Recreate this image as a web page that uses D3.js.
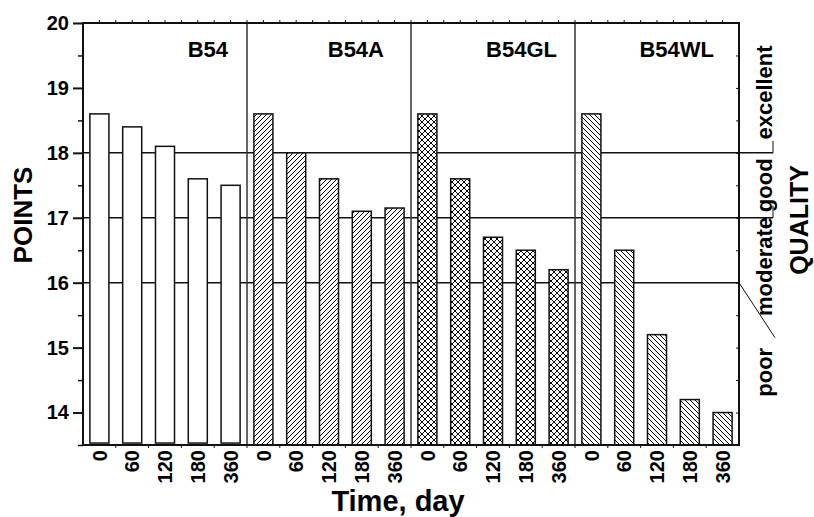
<!DOCTYPE html>
<html>
<head>
<meta charset="utf-8">
<script src="https://cdn.jsdelivr.net/npm/d3@7"></script>
<style>
  body { margin: 0; background: #fff; }
  svg { font-family: "Liberation Sans", Arial, sans-serif; font-weight: bold; }
  .axis path, .axis line { stroke: #111; }
  .axis text { font-size: 20px; font-weight: bold; fill: #000; }
</style>
</head>
<body>
<svg id="chart"></svg>
<script>
// storage-time series, points per sample
const groups = ["B54", "B54A", "B54GL", "B54WL"];
const days = ["0", "60", "120", "180", "360"];
const b54 = [18.6, 18.4, 18.1, 17.6, 17.5];
const b54a = [18.6, 18.0, 17.6, 17.1, 17.15];
const b54gl = [18.6, 17.6, 16.7, 16.5, 16.2];
const b54wl = [18.6, 16.5, 15.2, 14.2, 14.0];
const yTicks = [14, 15, 16, 17, 18, 19, 20];
const qualityBounds = [16, 17, 18];
const qualityLabels = ["poor", "moderate", "good", "excellent"];
const qualityLabelAt = [14.62, 16.25, 17.5, 18.93];

const seriesValues = [b54, b54a, b54gl, b54wl];
const fills = ["#fff", "url(#hatchFwd)", "url(#hatchCross)", "url(#hatchBack)"];
const titleInset = [19, 27, 18, 25];

const data = [];
groups.forEach((g, gi) => {
  days.forEach((d, di) => {
    data.push({ key: g + "|" + d, group: g, gi: gi, day: d, value: seriesValues[gi][di] });
  });
});

const config = {
  containerWidth: 814,
  containerHeight: 517,
  margin: { top: 23, right: 75, bottom: 72, left: 83 },
};
const width = config.containerWidth - config.margin.left - config.margin.right;
const height = config.containerHeight - config.margin.top - config.margin.bottom;

const svg = d3.select("#chart")
  .attr("width", config.containerWidth)
  .attr("height", config.containerHeight);

// hatch patterns
const defs = svg.append("defs");
function pattern(id, size, d) {
  defs.append("pattern")
    .attr("id", id)
    .attr("patternUnits", "userSpaceOnUse")
    .attr("width", size)
    .attr("height", size)
    .call(p => p.append("rect").attr("width", size).attr("height", size).attr("fill", "#fff"))
    .append("path")
    .attr("d", d)
    .attr("stroke", "#000")
    .attr("stroke-width", 1)
    .attr("fill", "none");
}
pattern("hatchFwd", 5, "M0,5 L5,0 M-1,1 L1,-1 M4,6 L6,4");
pattern("hatchBack", 5, "M0,0 L5,5 M-1,4 L1,6 M4,-1 L6,1");
pattern("hatchCross", 6, "M0,6 L6,0 M-1,1 L1,-1 M5,7 L7,5 M0,0 L6,6 M-1,5 L1,7 M5,-1 L7,1");

const chart = svg.append("g")
  .attr("transform", `translate(${config.margin.left},${config.margin.top})`);

const xScale = d3.scaleBand()
  .domain(data.map(d => d.key))
  .range([0, width])
  .paddingInner(0.42)
  .paddingOuter(0.21);
const step = xScale.step();

const yScale = d3.scaleLinear().domain([13.5, 20]).range([height, 0]);

// quality threshold lines
chart.selectAll(".qline")
  .data(qualityBounds)
  .enter()
  .append("line")
  .attr("class", "qline")
  .attr("x1", 0)
  .attr("x2", (d, i) => (i === 0 ? width : width + 34))
  .attr("y1", d => yScale(d))
  .attr("y2", d => yScale(d))
  .attr("stroke", "#111")
  .attr("stroke-width", 1.5);

// small end marks on the upper two lines
chart.selectAll(".qmark")
  .data(qualityBounds.slice(1))
  .enter()
  .append("line")
  .attr("x1", width + 34)
  .attr("x2", width + 34)
  .attr("y1", d => yScale(d))
  .attr("y2", d => yScale(d) - 12)
  .attr("stroke", "#111")
  .attr("stroke-width", 1);

chart.append("line")
  .attr("x1", width)
  .attr("y1", yScale(qualityBounds[0]))
  .attr("x2", width + 36)
  .attr("y2", yScale(qualityBounds[0]) + 55)
  .attr("stroke", "#111")
  .attr("stroke-width", 1);

// bars
chart.selectAll(".bar")
  .data(data)
  .enter()
  .append("rect")
  .attr("class", "bar")
  .attr("x", d => xScale(d.key))
  .attr("width", xScale.bandwidth())
  .attr("y", d => yScale(d.value))
  .attr("height", d => yScale(d.gi === 0 ? 13.53 : 13.5) - yScale(d.value))
  .attr("fill", d => fills[d.gi])
  .attr("stroke", "#111")
  .attr("stroke-width", 1.5);

// group separators
chart.selectAll(".sep")
  .data(groups.slice(1))
  .enter()
  .append("line")
  .attr("class", "sep")
  .attr("x1", (d, i) => (i + 1) * 5 * step)
  .attr("x2", (d, i) => (i + 1) * 5 * step)
  .attr("y1", 0)
  .attr("y2", height)
  .attr("stroke", "#333")
  .attr("stroke-width", 1.5);

// group titles
chart.selectAll(".gtitle")
  .data(groups)
  .enter()
  .append("text")
  .attr("class", "gtitle")
  .attr("x", (d, i) => (i + 1) * 5 * step - titleInset[i])
  .attr("y", 34)
  .attr("text-anchor", "end")
  .style("font-size", "22px")
  .text(d => d);

// frame
chart.append("rect")
  .attr("width", width)
  .attr("height", height)
  .attr("fill", "none")
  .attr("stroke", "#111")
  .attr("stroke-width", 2);

// top minor ticks
const halfSteps = d3.range(1, data.length * 2).map(i => i * step / 2);
chart.selectAll(".ttick")
  .data(halfSteps)
  .enter()
  .append("line")
  .attr("x1", d => d).attr("x2", d => d)
  .attr("y1", 0).attr("y2", -3)
  .attr("stroke", "#111");

// bottom ticks at slot boundaries
chart.selectAll(".btick")
  .data(d3.range(1, data.length))
  .enter()
  .append("line")
  .attr("x1", d => d * step).attr("x2", d => d * step)
  .attr("y1", height).attr("y2", height + 3)
  .attr("stroke", "#111");

// axes
const halfTicks = d3.range(13.5, 20.01, 0.5).filter(v => v % 1 !== 0);

const xAxis = d3.axisBottom(xScale).tickSize(0).tickFormat(d => d.split("|")[1]);
const xAxisG = chart.append("g")
  .attr("class", "axis x-axis")
  .attr("transform", `translate(0,${height})`)
  .call(xAxis);
xAxisG.select(".domain").remove();
xAxisG.selectAll("text")
  .attr("x", -5)
  .attr("y", 0)
  .attr("dy", "0.36em")
  .attr("transform", "rotate(-90)")
  .style("text-anchor", "end");

const yAxis = d3.axisLeft(yScale).tickValues(yTicks).tickSize(10).tickPadding(4)
  .tickFormat(d3.format("d"));
const yAxisG = chart.append("g").attr("class", "axis y-axis").call(yAxis);
yAxisG.select(".domain").remove();
yAxisG.selectAll("line").attr("stroke-width", 2);

const yMinor = chart.append("g")
  .attr("class", "axis")
  .call(d3.axisLeft(yScale).tickValues(halfTicks).tickSize(5).tickFormat(""));
yMinor.select(".domain").remove();
yMinor.selectAll("line").attr("stroke-width", 1.5);

const yRight = chart.append("g")
  .attr("class", "axis")
  .attr("transform", `translate(${width},0)`)
  .call(d3.axisRight(yScale).tickValues(halfTicks.concat(yTicks)).tickSize(-3).tickFormat(""));
yRight.select(".domain").remove();

// quality labels on the right
chart.selectAll(".qlabel")
  .data(qualityLabels)
  .enter()
  .append("text")
  .attr("class", "qlabel")
  .attr("transform", (d, i) => `translate(${width + 33},${yScale(qualityLabelAt[i])}) rotate(-90)`)
  .attr("text-anchor", "middle")
  .style("font-size", "22px")
  .text(d => d);

// axis titles
svg.append("text")
  .attr("transform", "translate(32,215) rotate(-90)")
  .attr("text-anchor", "middle")
  .style("font-size", "26px")
  .text("POINTS");

svg.append("text")
  .attr("transform", "translate(808,220) rotate(-90)")
  .attr("text-anchor", "middle")
  .style("font-size", "25px")
  .text("QUALITY");

svg.append("text")
  .attr("x", 398)
  .attr("y", 511)
  .attr("text-anchor", "middle")
  .style("font-size", "29px")
  .text("Time, day");
</script>
</body>
</html>
